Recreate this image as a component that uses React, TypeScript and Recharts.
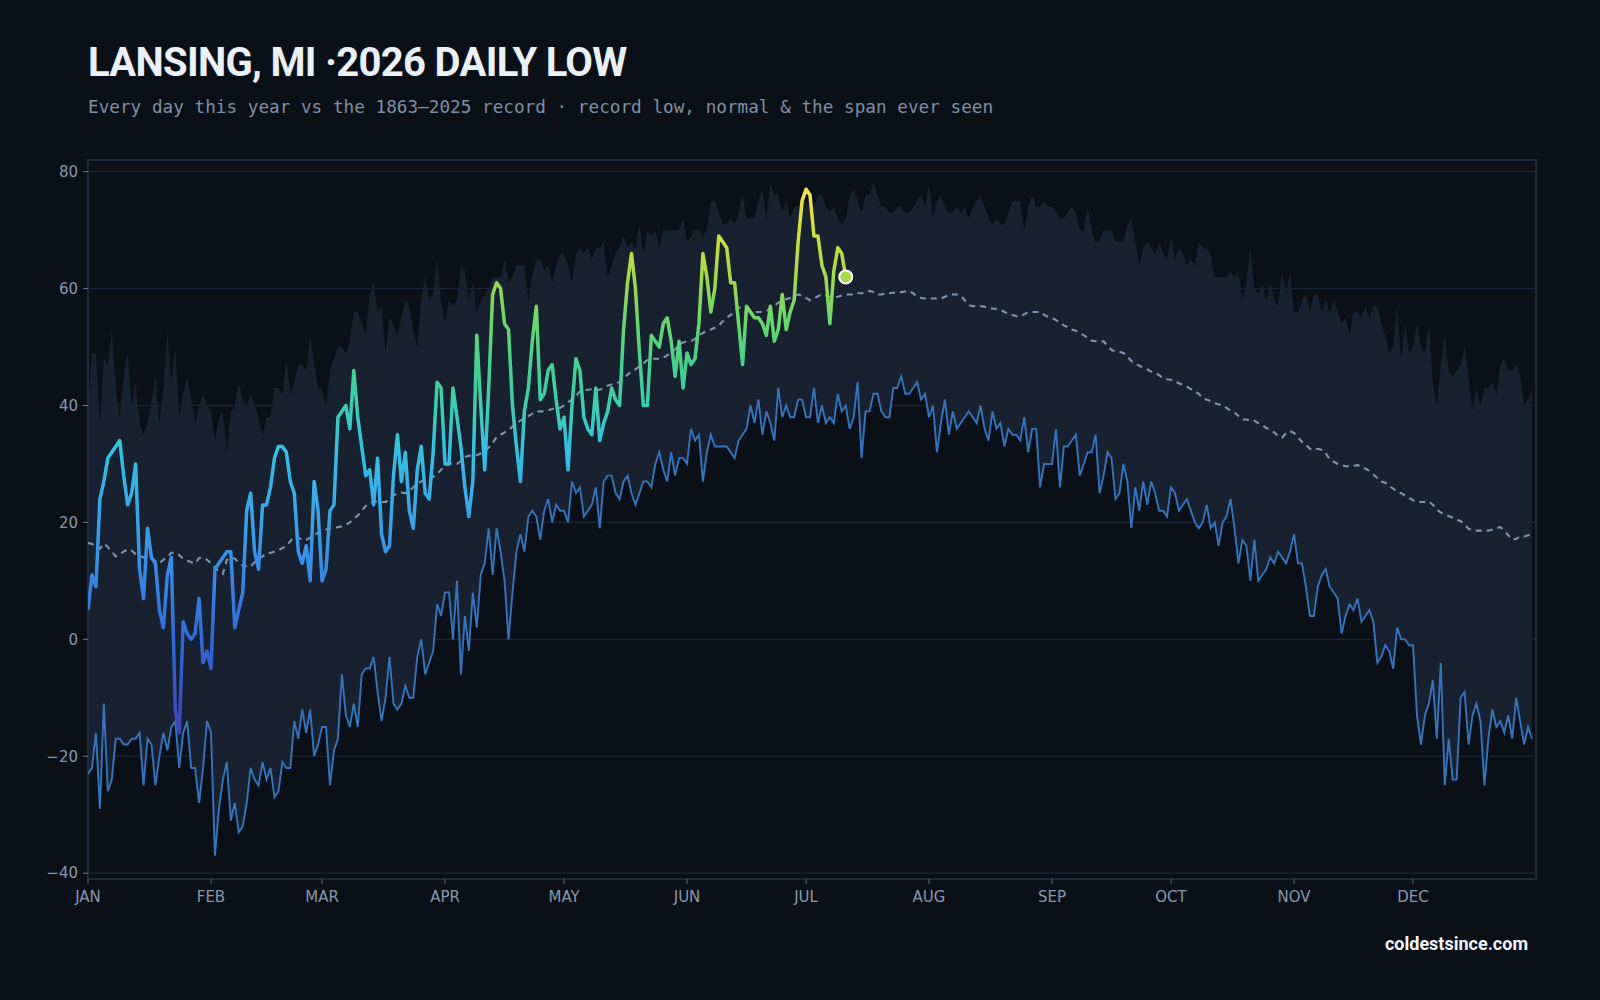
import React from "react";
import {
  ComposedChart,
  Area,
  Line,
  XAxis,
  YAxis,
  CartesianGrid,
  ReferenceArea,
  ReferenceDot,
} from "recharts";

// month ticks (day of year where each month starts)
const monthNames = ["JAN", "FEB", "MAR", "APR", "MAY", "JUN", "JUL", "AUG", "SEP", "OCT", "NOV", "DEC"];
const monthStarts = [0, 31, 59, 90, 120, 151, 181, 212, 243, 273, 304, 334];
const tempTicks = [-40, -20, 0, 20, 40, 60, 80];

// 2026 daily lows so far (°F), Jan 1 onward
const thisYear = [
  5, 11, 9, 24, 27, 31, 32, 33, 34, 28,
  23, 25, 30, 12, 7, 19, 14, 13, 5, 2,
  11, 14, -12, -16, 3, 1, 0, 1, 7, -4,
  -2, -5, 12, 13, 14, 15, 15, 2, 5, 8,
  22, 25, 15, 12, 23, 23, 26, 31, 33, 33,
  32, 27, 25, 15, 13, 16, 10, 27, 22, 10,
  12, 22, 23, 38, 39, 40, 36, 46, 38, 33,
  28, 29, 23, 31, 18, 15, 16, 28, 35, 27,
  32, 22, 19, 29, 33, 25, 24, 32, 44, 43,
  30, 30, 43, 38, 33, 26, 21, 27, 52, 40,
  29, 43, 59, 61, 60, 54, 53, 40, 33, 27,
  39, 43, 51, 57, 41, 42, 46, 47, 41, 36,
  38, 29, 40, 48, 46, 38, 36, 35, 43, 34,
  37, 39, 43, 41, 40, 53, 61, 66, 60, 49,
  40, 40, 52, 51, 50, 54, 55, 51, 45, 51,
  43, 49, 47, 48, 54, 66, 62, 56, 60, 69,
  68, 67, 61, 61, 54, 47, 57, 56, 55, 55,
  54, 52, 57, 51, 53, 59, 53, 56, 58, 68,
  75, 77, 76, 69, 69, 64, 62, 54, 63, 67,
  66, 62,
];

// record lowest low for each calendar day, 1863–2025
const recordLow = [
  -23, -22, -16, -29, -11, -26, -24, -17, -17, -18,
  -18, -17, -17, -16, -25, -17, -18, -25, -20, -16,
  -19, -15, -14, -22, -16, -14, -22, -22, -28, -22,
  -14, -16, -37, -29, -24, -21, -31, -28, -33, -32,
  -28, -22, -24, -25, -21, -24, -22, -27, -26, -21,
  -22, -22, -14, -17, -12, -16, -12, -20, -18, -15,
  -15, -25, -19, -17, -6, -13, -15, -11, -15, -6,
  -5, -5, -3, -9, -14, -10, -3, -11, -12, -11,
  -8, -10, -10, -3, 0, -6, -4, -2, 6, 4,
  8, 8, 0, 10, -6, 4, -2, 8, 2, 11,
  13, 19, 11, 19, 15, 10, 0, 8, 15, 18,
  15, 21, 22, 21, 17, 22, 24, 20, 23, 22,
  22, 20, 27, 25, 26, 21, 22, 23, 26, 19,
  27, 28, 28, 25, 24, 27, 28, 25, 23, 25,
  27, 27, 26, 30, 32, 29, 27, 32, 28, 31,
  31, 30, 36, 34, 35, 27, 32, 35, 33, 33,
  33, 33, 32, 31, 34, 35, 36, 40, 37, 41,
  35, 39, 37, 34, 43, 38, 40, 38, 38, 41,
  41, 38, 38, 43, 37, 40, 37, 38, 37, 42,
  39, 40, 36, 38, 44, 31, 39, 39, 42, 42,
  39, 38, 38, 43, 43, 45, 42, 42, 43, 44,
  41, 42, 38, 40, 32, 37, 41, 35, 39, 36,
  37, 38, 39, 38, 37, 40, 36, 34, 39, 36,
  37, 33, 36, 35, 35, 34, 38, 32, 36, 36,
  26, 30, 30, 30, 36, 26, 33, 33, 34, 35,
  28, 30, 32, 32, 35, 25, 28, 32, 31, 24,
  25, 30, 27, 19, 26, 22, 27, 23, 27, 25,
  22, 22, 21, 26, 25, 22, 23, 24, 22, 20,
  19, 20, 23, 19, 20, 16, 20, 21, 24, 19,
  13, 17, 16, 10, 17, 10, 11, 12, 14, 13,
  15, 14, 13, 15, 18, 13, 13, 9, 4, 4,
  9, 11, 12, 9, 8, 7, 1, 4, 6, 5,
  7, 3, 4, 5, 3, -4, -3, -1, -2, -5,
  2, 0, 0, -1, -1, -13, -18, -13, -11, -7,
  -17, -4, -25, -17, -24, -24, -10, -9, -18, -13,
  -11, -14, -25, -17, -12, -15, -14, -16, -13, -17,
  -10, -14, -18, -15, -17,
];

// warmest daily low ever recorded for each calendar day
const recordHigh = [
  40, 49, 49, 37, 48, 47, 53, 43, 38, 45,
  49, 40, 44, 37, 35, 37, 41, 45, 37, 43,
  53, 44, 50, 38, 42, 45, 41, 37, 40, 42,
  40, 39, 34, 38, 39, 32, 39, 40, 44, 41,
  40, 42, 40, 38, 35, 38, 38, 43, 43, 42,
  48, 42, 44, 47, 47, 46, 52, 47, 43, 43,
  40, 46, 48, 50, 50, 49, 51, 56, 56, 54,
  52, 59, 61, 56, 57, 49, 55, 54, 52, 55,
  58, 57, 53, 50, 58, 62, 58, 59, 65, 58,
  54, 58, 57, 58, 64, 63, 58, 61, 56, 58,
  59, 60, 62, 62, 62, 65, 61, 62, 64, 64,
  64, 58, 62, 65, 65, 63, 64, 61, 64, 66,
  66, 64, 61, 66, 67, 66, 67, 65, 67, 67,
  68, 62, 64, 66, 67, 69, 67, 68, 67, 71,
  66, 70, 69, 70, 67, 70, 70, 70, 70, 70,
  72, 68, 69, 70, 70, 69, 70, 75, 75, 73,
  71, 71, 72, 71, 73, 76, 72, 72, 72, 75,
  77, 72, 78, 76, 76, 73, 75, 72, 74, 74,
  75, 75, 74, 74, 76, 76, 74, 73, 74, 72,
  71, 72, 76, 77, 75, 73, 76, 76, 78, 76,
  74, 74, 73, 73, 74, 74, 73, 73, 74, 75,
  76, 74, 78, 72, 75, 76, 74, 73, 73, 74,
  73, 74, 72, 74, 75, 76, 74, 72, 71, 72,
  71, 71, 73, 75, 75, 75, 70, 74, 76, 74,
  74, 75, 74, 74, 73, 72, 72, 73, 74, 73,
  70, 70, 74, 70, 68, 68, 70, 70, 70, 68,
  68, 68, 71, 72, 68, 64, 67, 68, 67, 66,
  68, 66, 65, 69, 65, 67, 66, 64, 65, 64,
  68, 67, 67, 66, 62, 62, 62, 62, 63, 62,
  63, 58, 61, 67, 60, 59, 61, 58, 61, 58,
  57, 63, 59, 63, 56, 56, 58, 59, 56, 59,
  59, 56, 58, 56, 58, 56, 54, 55, 52, 56,
  56, 55, 57, 55, 57, 57, 54, 52, 49, 50,
  57, 48, 54, 49, 50, 54, 50, 49, 54, 44,
  40, 47, 52, 46, 45, 46, 47, 50, 45, 39,
  43, 40, 43, 43, 44, 42, 47, 48, 46, 46,
  47, 45, 40, 41, 43,
];

// normal low for each calendar day
const normalLow = [
  16.5, 16.3, 16.0, 15.5, 16.4, 15.8, 15.0, 14.2, 14.6, 15.0,
  15.4, 15.2, 14.6, 14.3, 14.0, 14.0, 13.8, 13.4, 13.0, 13.6,
  14.1, 14.8, 14.8, 14.4, 13.8, 13.5, 13.2, 13.0, 13.9, 14.0,
  13.6, 13.0, 12.3, 11.6, 11.2, 13.6, 14.0, 13.8, 13.2, 12.6,
  12.5, 12.4, 13.2, 13.8, 14.2, 14.6, 14.8, 15.0, 15.2, 15.6,
  16.0, 16.8, 17.6, 17.4, 17.0, 17.0, 17.4, 17.8, 18.3, 18.6,
  18.8, 19.0, 19.0, 19.2, 19.3, 19.6, 20.0, 20.6, 21.2, 22.0,
  22.8, 23.2, 23.5, 23.6, 23.5, 23.5, 24.0, 24.6, 25.0, 25.1,
  25.0, 25.4, 26.0, 26.7, 27.0, 27.4, 27.6, 27.8, 28.3, 29.0,
  29.8, 30.0, 30.1, 30.0, 30.5, 31.2, 31.4, 31.4, 31.5, 31.8,
  32.2, 32.8, 33.6, 34.6, 35.0, 35.4, 35.8, 36.4, 37.0, 37.4,
  37.8, 38.2, 38.6, 39.0, 39.0, 39.0, 39.2, 39.4, 39.6, 39.6,
  40.0, 40.6, 41.0, 41.6, 42.4, 42.6, 42.7, 42.8, 42.7, 42.7,
  43.0, 43.4, 43.6, 43.8, 44.0, 44.6, 45.3, 45.8, 46.2, 46.7,
  47.2, 47.8, 48.0, 48.0, 48.0, 48.2, 48.6, 49.0, 49.6, 50.4,
  50.8, 51.0, 51.0, 51.4, 52.0, 52.4, 52.8, 53.0, 53.3, 53.7,
  54.4, 55.0, 55.5, 56.2, 56.8, 56.6, 56.2, 56.0, 56.0, 56.0,
  56.0, 56.2, 56.5, 57.0, 57.6, 58.0, 58.2, 58.4, 58.7, 59.0,
  58.8, 58.4, 58.0, 58.3, 58.7, 59.0, 58.8, 58.6, 58.5, 58.6,
  58.8, 59.0, 59.0, 59.0, 59.2, 59.2, 59.4, 59.6, 59.4, 59.0,
  59.0, 59.2, 59.2, 59.3, 59.4, 59.4, 59.5, 59.6, 59.2, 58.6,
  58.4, 58.3, 58.3, 58.3, 58.3, 58.3, 58.6, 59.0, 59.0, 59.0,
  58.8, 58.0, 57.2, 57.0, 57.0, 57.0, 56.9, 56.7, 56.6, 56.5,
  56.4, 56.0, 55.7, 55.5, 55.3, 55.3, 55.6, 56.0, 56.0, 56.0,
  56.0, 55.5, 55.2, 55.0, 54.6, 54.2, 53.7, 53.4, 53.0, 52.8,
  52.4, 52.0, 51.6, 51.1, 51.0, 51.0, 51.0, 50.2, 49.5, 49.3,
  49.2, 49.0, 48.4, 47.6, 47.2, 46.8, 46.5, 46.2, 45.8, 45.6,
  45.2, 44.7, 44.5, 44.4, 44.2, 43.8, 43.5, 43.2, 42.8, 42.4,
  42.0, 41.3, 41.0, 40.8, 40.4, 40.2, 40.0, 39.6, 39.1, 38.8,
  38.2, 37.6, 37.6, 37.4, 37.4, 37.0, 36.6, 36.2, 35.8, 35.4,
  34.8, 34.5, 35.3, 35.6, 35.3, 34.5, 33.8, 33.3, 32.6, 32.4,
  32.6, 32.4, 31.8, 30.8, 30.4, 30.0, 29.8, 29.6, 29.6, 29.7,
  29.8, 29.6, 29.2, 28.8, 28.2, 27.6, 27.0, 26.8, 26.2, 25.8,
  25.2, 25.0, 24.6, 24.2, 23.8, 23.5, 23.5, 23.5, 23.6, 23.0,
  22.2, 21.7, 21.4, 21.1, 20.8, 20.5, 20.2, 19.6, 18.9, 18.7,
  18.6, 18.6, 18.6, 18.6, 18.8, 19.0, 19.2, 18.6, 17.8, 17.0,
  17.2, 17.6, 17.6, 17.8, 18.0,
];

// colour ramp for this year's line, warmest first
const rampTemps = [77, 70, 62, 55, 47, 40, 33, 25, 12, 0, -16];
const rampColors = [
  "#f5e34a", "#d0df3c", "#a3d94a", "#6cd66a", "#45d08e", "#3ecdb0",
  "#33c2e0", "#38aee8", "#3a8ae6", "#3168d6", "#3b45b5",
];

const rows = recordLow.map((low, i) => ({
  day: i,
  band: [low, recordHigh[i]],
  low,
  normal: normalLow[i],
  year: i < thisYear.length ? thisYear[i] : null,
}));

const yearMax = Math.max(...thisYear);
const yearMin = Math.min(...thisYear);
const lastDay = thisYear.length - 1;

const BG = "#0b0f17";
const TICK = "#8798ae";

export default function App() {
  return (
    <div
      style={{
        position: "absolute",
        top: 0,
        left: 0,
        width: 1600,
        height: 1000,
        background: BG,
        overflow: "hidden",
      }}
    >
      <div
        style={{
          position: "absolute",
          left: 88,
          top: 43,
          fontFamily: "Roboto, sans-serif",
          fontWeight: 700,
          fontSize: 40,
          lineHeight: "40px",
          letterSpacing: -0.7,
          color: "#eaf0f8",
          whiteSpace: "nowrap",
        }}
      >
        LANSING, MI ·2026 DAILY LOW
      </div>
      <div
        style={{
          position: "absolute",
          left: 88,
          top: 99,
          fontFamily: "'DejaVu Sans Mono', monospace",
          fontSize: 17.7,
          lineHeight: "17.7px",
          color: "#7f8fa5",
          whiteSpace: "nowrap",
        }}
      >
        Every day this year vs the 1863–2025 record · record low, normal &amp; the span ever seen
      </div>

      <div style={{ position: "absolute", top: 0, left: 0 }}>
        <ComposedChart
          width={1600}
          height={1000}
          data={rows}
          margin={{ top: 160, right: 64, bottom: 91, left: 0 }}
        >
          <defs>
            <linearGradient id="yearGrad" x1="0" y1="0" x2="0" y2="1">
              {rampTemps.map((t, i) => (
                <stop
                  key={t}
                  offset={(yearMax - t) / (yearMax - yearMin)}
                  stopColor={rampColors[i]}
                />
              ))}
            </linearGradient>
          </defs>
          <CartesianGrid horizontal vertical={false} stroke="#1a2637" strokeWidth={1.2} />
          <XAxis
            type="number"
            dataKey="day"
            domain={[0, 365]}
            ticks={monthStarts}
            interval={0}
            allowDataOverflow
            height={30}
            axisLine={false}
            tickLine={{ stroke: "#5a6a80" }}
            tickSize={5}
            tickMargin={7}
            tick={{ fill: TICK, fontSize: 15, fontFamily: "'DejaVu Sans', sans-serif" }}
            tickFormatter={(d: number) => monthNames[monthStarts.indexOf(d)]}
          />
          <YAxis
            type="number"
            domain={[-41, 82]}
            ticks={tempTicks}
            interval={0}
            allowDataOverflow
            width={88}
            axisLine={false}
            tickLine={{ stroke: "#6b7b90" }}
            tickSize={5}
            tickMargin={5}
            tick={{ fill: TICK, fontSize: 15, fontFamily: "'DejaVu Sans', sans-serif" }}
            tickFormatter={(v: number) => String(v).replace("-", "\u2212")}
          />
          <Area
            type="linear"
            dataKey="band"
            stroke="none"
            fill="#172130"
            fillOpacity={1}
            isAnimationActive={false}
            dot={false}
            activeDot={false}
          />
          <Line
            type="linear"
            dataKey="low"
            stroke="#3574ba"
            strokeWidth={1.9}
            dot={false}
            activeDot={false}
            isAnimationActive={false}
          />
          <Line
            type="linear"
            dataKey="normal"
            stroke="#7e94ad"
            strokeWidth={2.1}
            strokeDasharray="6 5"
            dot={false}
            activeDot={false}
            isAnimationActive={false}
          />
          <Line
            type="linear"
            dataKey="year"
            stroke="url(#yearGrad)"
            strokeWidth={3.5}
            strokeLinejoin="round"
            dot={false}
            activeDot={false}
            connectNulls={false}
            isAnimationActive={false}
          />
          <ReferenceDot
            x={lastDay}
            y={thisYear[lastDay]}
            r={6.5}
            fill="#a6d94c"
            stroke="#ffffff"
            strokeWidth={2}
          />
          <ReferenceArea
            x1={0}
            x2={365}
            y1={-41}
            y2={82}
            fill="none"
            stroke="#1e2b3c"
            strokeWidth={2}
          />
        </ComposedChart>
      </div>

      <div
        style={{
          position: "absolute",
          right: 72,
          top: 934,
          fontFamily: "Roboto, 'DejaVu Sans', sans-serif",
          fontWeight: 700,
          fontSize: 18,
          lineHeight: "20px",
          color: "#f0f4fa",
          whiteSpace: "nowrap",
        }}
      >
        coldestsince.com
      </div>
    </div>
  );
}
